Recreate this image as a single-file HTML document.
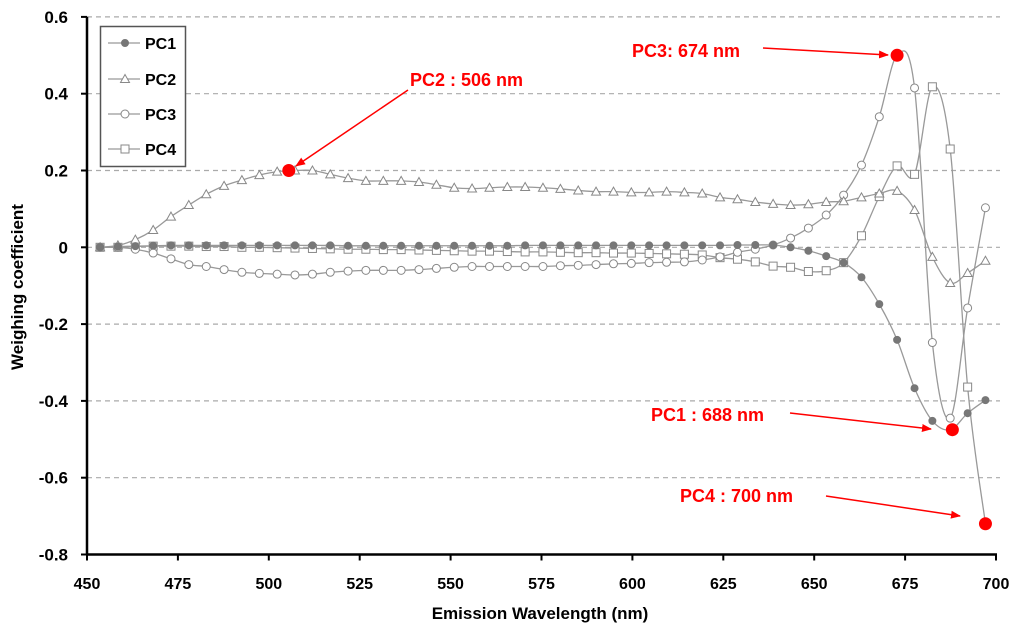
<!DOCTYPE html>
<html><head><meta charset="utf-8"><style>
body{margin:0;background:#fff;}
svg text{font-family:"Liberation Sans",sans-serif;}
</style></head><body>
<svg id="chart" width="1024" height="629" xmlns="http://www.w3.org/2000/svg">
<defs><marker id="ah" markerWidth="10" markerHeight="8" refX="9" refY="4" orient="auto" markerUnits="userSpaceOnUse"><path d="M0,0 L10,4 L0,8 z" fill="#f00"/></marker></defs>
<g id="grid"></g>
<g id="axes"></g>
<g id="series"></g>
<g id="annot"></g>
<g id="legend"></g>
</svg>
<script>
const wavelengths=[453.6,458.5,463.3,468.2,473.1,478,482.8,487.7,492.6,497.4,502.3,507.2,512,516.9,521.8,526.7,531.5,536.4,541.3,546.1,551,555.9,560.7,565.6,570.5,575.4,580.2,585.1,590,594.8,599.7,604.6,609.4,614.3,619.2,624.1,628.9,633.8,638.7,643.5,648.4,653.3,658.1,663,667.9,672.8,677.6,682.5,687.4,692.2,697.1];
const pc1=[0,0.002,0.003,0.004,0.005,0.005,0.005,0.005,0.005,0.005,0.005,0.005,0.005,0.005,0.004,0.004,0.004,0.004,0.004,0.004,0.004,0.004,0.004,0.004,0.005,0.005,0.005,0.005,0.005,0.005,0.005,0.005,0.005,0.005,0.005,0.005,0.006,0.006,0.006,0,-0.009,-0.023,-0.04,-0.078,-0.148,-0.241,-0.367,-0.452,-0.475,-0.432,-0.398];
const pc2=[0,0.005,0.02,0.045,0.08,0.11,0.138,0.16,0.175,0.188,0.197,0.2,0.2,0.19,0.18,0.173,0.173,0.173,0.17,0.163,0.155,0.153,0.155,0.157,0.157,0.155,0.152,0.148,0.145,0.145,0.143,0.143,0.145,0.143,0.14,0.13,0.125,0.118,0.113,0.11,0.112,0.118,0.12,0.13,0.14,0.147,0.097,-0.025,-0.093,-0.067,-0.035];
const pc3=[0,0,-0.005,-0.015,-0.03,-0.045,-0.05,-0.058,-0.065,-0.068,-0.07,-0.072,-0.07,-0.065,-0.062,-0.06,-0.06,-0.06,-0.058,-0.055,-0.052,-0.05,-0.05,-0.05,-0.05,-0.05,-0.048,-0.047,-0.045,-0.043,-0.042,-0.04,-0.039,-0.038,-0.033,-0.025,-0.013,-0.005,0.006,0.024,0.05,0.084,0.136,0.214,0.34,0.5,0.415,-0.248,-0.445,-0.158,0.103];
const pc4=[0,0,0.002,0.003,0.003,0.003,0.002,0.002,0,0,-0.001,-0.002,-0.003,-0.004,-0.005,-0.005,-0.006,-0.006,-0.007,-0.008,-0.009,-0.01,-0.01,-0.011,-0.012,-0.012,-0.013,-0.014,-0.014,-0.015,-0.015,-0.016,-0.017,-0.018,-0.02,-0.027,-0.031,-0.038,-0.049,-0.052,-0.063,-0.061,-0.04,0.03,0.132,0.212,0.19,0.418,0.256,-0.364,-0.72];
const xTicks=[450,475,500,525,550,575,600,625,650,675,700];
const yTicks=[0.6,0.4,0.2,0,-0.2,-0.4,-0.6,-0.8];
const highlightX=[672.8,505.5,688,697.1];
const highlightY=[0.5,0.2,-0.475,-0.72];
const highlightLabels=["PC3: 674 nm","PC2 : 506 nm","PC1 : 688 nm","PC4 : 700 nm"];

const NS="http://www.w3.org/2000/svg";
const X=v=>87+(v-450)*3.636;
const Y=v=>247.3-v*384;
function mk(tag,attrs,parent){const e=document.createElementNS(NS,tag);for(const k in attrs)e.setAttribute(k,attrs[k]);parent.appendChild(e);return e;}
const grid=document.getElementById('grid'),axes=document.getElementById('axes'),ser=document.getElementById('series'),ann=document.getElementById('annot'),leg=document.getElementById('legend');

yTicks.forEach(t=>{
  if(t!==-0.8){const g=mk('line',{x1:87,x2:1000,y1:Y(t),y2:Y(t),stroke:'#aaa','stroke-width':1.2,'stroke-dasharray':'5,4'},grid);
  
  }
  const tk=mk('line',{x1:81,x2:87,y1:Y(t),y2:Y(t),stroke:'#000','stroke-width':2},axes);
  
  
  const lb=mk('text',{x:68,y:Y(t)+6,'text-anchor':'end','font-size':17,'font-weight':'bold',fill:'#000'},axes);
  lb.textContent=(t===0?'0':t.toFixed(1));
  
  
});
xTicks.forEach(t=>{
  const tk=mk('line',{x1:X(t),x2:X(t),y1:Y(-0.8),y2:Y(-0.8)+6,stroke:'#000','stroke-width':2},axes);
  
  
  const lb=mk('text',{x:X(t),y:589,'text-anchor':'middle','font-size':16,'font-weight':'bold',fill:'#000'},axes);
  lb.textContent=t;
  
  
});
const ya=mk('line',{x1:87,x2:87,y1:Y(0.6),y2:Y(-0.8)+1,stroke:'#000','stroke-width':2.5},axes);


const xa=mk('line',{x1:86,x2:X(700)+1,y1:Y(-0.8),y2:Y(-0.8),stroke:'#000','stroke-width':2.5},axes);


const xt=mk('text',{x:540,y:619,'text-anchor':'middle','font-size':17,'font-weight':'bold',fill:'#000'},axes);
xt.textContent='Emission Wavelength (nm)';


const yt=mk('text',{x:0,y:0,'text-anchor':'middle','font-size':17,'font-weight':'bold',fill:'#000',transform:'translate(23,287) rotate(-90)'},axes);
yt.textContent='Weighing coefficient';



function smooth(pts){let d=`M${pts[0][0]},${pts[0][1]}`;
  for(let i=0;i<pts.length-1;i++){const p0=pts[i-1]||pts[i],p1=pts[i],p2=pts[i+1],p3=pts[i+2]||p2;
    const c1=[p1[0]+(p2[0]-p0[0])/6,p1[1]+(p2[1]-p0[1])/6],c2=[p2[0]-(p3[0]-p1[0])/6,p2[1]-(p3[1]-p1[1])/6];
    d+=` C${c1[0]},${c1[1]} ${c2[0]},${c2[1]} ${p2[0]},${p2[1]}`;}return d;}
function marker(type,x,y,parent){
  if(type==='dot')return mk('circle',{cx:x,cy:y,r:3.5,fill:'#777',stroke:'#777'},parent);
  if(type==='tri')return mk('path',{d:`M${x},${y-4.5} L${x+4.5},${y+3.5} L${x-4.5},${y+3.5} Z`,fill:'#fff',stroke:'#888','stroke-width':1},parent);
  if(type==='circ')return mk('circle',{cx:x,cy:y,r:4,fill:'#fff',stroke:'#888','stroke-width':1},parent);
  return mk('rect',{x:x-4,y:y-4,width:8,height:8,fill:'#fff',stroke:'#888','stroke-width':1},parent);
}
const seriesList=[[pc4,'sq','pc4'],[pc3,'circ','pc3'],[pc2,'tri','pc2'],[pc1,'dot','pc1']];
seriesList.forEach(([vals,type,name])=>{
  const g=mk('g',{},ser);
  
  
  const pts=vals.map((v,i)=>[X(wavelengths[i]),Y(v)]);
  const p=mk('path',{d:smooth(pts),fill:'none',stroke:'#999','stroke-width':1.3},g);
  
  
  pts.forEach(pt=>{const m=marker(type,pt[0],pt[1],g);
    
    });
});

const labelPos=[[632,57,'start',763,48,888,55],[410,86,'start',408,90,296,166],[651,421,'start',790,413,931,429],[680,502,'start',826,496,960,516]];
highlightX.forEach((w,i)=>{
  const d=mk('circle',{cx:X(w),cy:Y(highlightY[i]),r:6.5,fill:'#f00'},ann);
  
  
  const lp=labelPos[i];
  const t=mk('text',{x:lp[0],y:lp[1],'font-size':18,'font-weight':'bold',fill:'#f00'},ann);
  t.textContent=highlightLabels[i];
  
  
  const a=mk('line',{x1:lp[3],y1:lp[4],x2:lp[5],y2:lp[6],stroke:'#f00','stroke-width':1.5,'marker-end':'url(#ah)'},ann);
  
  
});

const box=mk('rect',{x:100.5,y:26.5,width:85,height:140,fill:'#fff',stroke:'#555','stroke-width':1.5},leg);


[['PC1','dot',43],['PC2','tri',79],['PC3','circ',114],['PC4','sq',149]].forEach(([n,type,y])=>{
  const g=mk('g',{},leg);
  
  
  mk('line',{x1:108,x2:140,y1:y,y2:y,stroke:'#999','stroke-width':1.3},g);
  marker(type,125,y,g);
  const t=mk('text',{x:145,y:y+6,'font-size':16,'font-weight':'bold',fill:'#000'},g);
  t.textContent=n;
});
</script>
</body></html>
